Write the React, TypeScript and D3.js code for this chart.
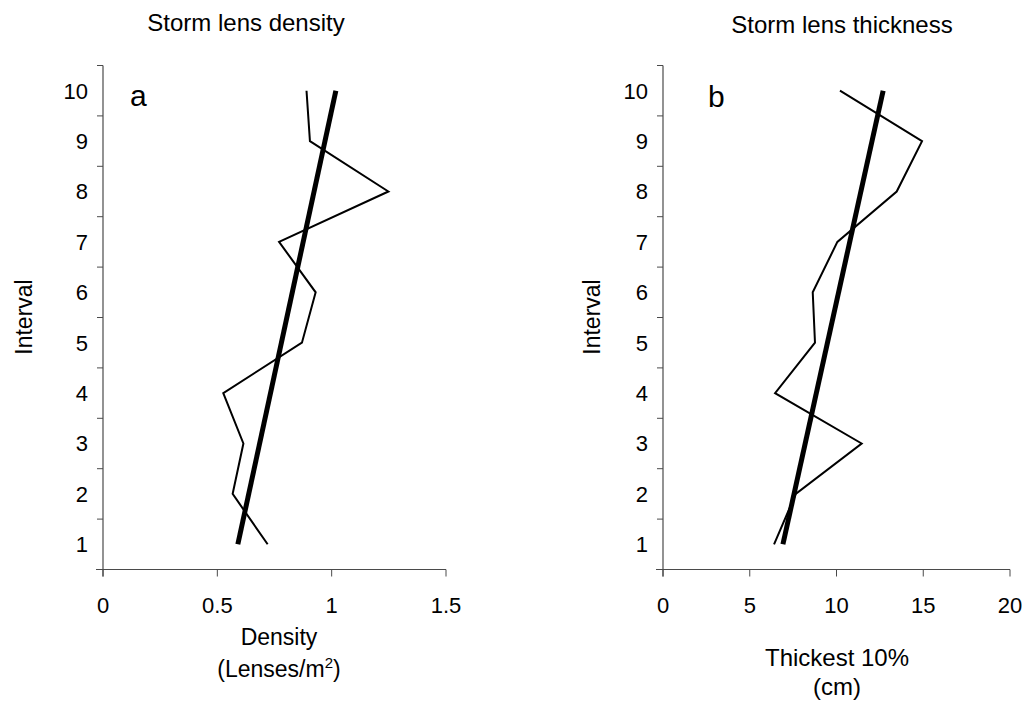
import React from 'react';
import * as d3 from 'd3';

// Interval number (y) for each row of both panels
const intervals = [1, 2, 3, 4, 5, 6, 7, 8, 9, 10];

// Panel a: storm lens density (lenses / m2)
const densityValues = [0.72, 0.567, 0.614, 0.526, 0.87, 0.93, 0.77, 1.248, 0.905, 0.89];
const densityTicks = [0, 0.5, 1, 1.5];

// Panel b: thickest 10% of lenses (cm)
const thicknessValues = [6.4, 7.65, 11.45, 6.46, 8.76, 8.63, 10.05, 13.47, 14.93, 10.2];
const thicknessTicks = [0, 5, 10, 15, 20];

const FONT = "'Liberation Sans', Arial, sans-serif";
const AXIS = '#4a4a4a';

// least-squares fit of x on interval, like the Excel trendline
function fitLine(ys: number[], xs: number[]) {
  const my = d3.mean(ys) as number;
  const mx = d3.mean(xs) as number;
  let num = 0;
  let den = 0;
  ys.forEach((y, i) => {
    num += (y - my) * (xs[i] - mx);
    den += (y - my) * (y - my);
  });
  const slope = num / den;
  return (y: number) => mx + slope * (y - my);
}

interface PanelProps {
  values: number[];
  ticks: number[];
  left: number;
  right: number;
  title: string;
  titleX: number;
  titleY: number;
  letter: string;
  letterX: number;
  letterY: number;
  yLabelX: number;
  xLabel: React.ReactNode;
}

const TOP = 65.5;
const BOTTOM = 569.5;

const Panel: React.FC<PanelProps> = ({
  values, ticks, left, right, title, titleX, titleY,
  letter, letterX, letterY, yLabelX, xLabel
}) => {
  const x = d3.scaleLinear()
    .domain([ticks[0], ticks[ticks.length - 1]])
    .range([left, right]);
  const y = d3.scaleLinear().domain([0.5, 10.5]).range([BOTTOM, TOP]);

  const pts = intervals.map((iv, i) => [values[i], iv] as [number, number]);
  const line = d3.line<[number, number]>()
    .x(d => x(d[0]))
    .y(d => y(d[1]));

  const fit = fitLine(intervals, values);
  const yExt = d3.extent(intervals) as [number, number];
  const trend: [number, number][] = [[fit(yExt[0]), yExt[0]], [fit(yExt[1]), yExt[1]]];

  const halfTicks = d3.range(0.5, 11, 1);

  return (
    <g fontFamily={FONT} fill="#000">
      <text x={titleX} y={titleY} textAnchor="middle" fontSize={24}>{title}</text>

      {/* y axis */}
      <line x1={left} x2={left} y1={TOP} y2={BOTTOM + 7} stroke={AXIS} strokeWidth={1.2} />
      {halfTicks.map(t => (
        <line key={t} x1={left - 6} x2={left} y1={y(t)} y2={y(t)} stroke={AXIS} strokeWidth={1} />
      ))}
      {intervals.map(iv => (
        <text key={iv} x={left - 15} y={y(iv)} dy="0.36em" textAnchor="end" fontSize={22}>{iv}</text>
      ))}

      {/* x axis */}
      <line x1={left - 7} x2={right} y1={BOTTOM} y2={BOTTOM} stroke={AXIS} strokeWidth={1.2} />
      {ticks.map(t => (
        <line key={t} x1={x(t)} x2={x(t)} y1={BOTTOM} y2={BOTTOM + 7} stroke={AXIS} strokeWidth={1} />
      ))}
      {ticks.map(t => (
        <text key={t} x={x(t)} y={613} textAnchor="middle" fontSize={22}>{String(t)}</text>
      ))}

      <text transform={`translate(${yLabelX},317) rotate(-90)`} textAnchor="middle" fontSize={23}>Interval</text>
      {xLabel}

      <text x={letterX} y={letterY} fontSize={30}>{letter}</text>

      <path d={line(pts) || ''} fill="none" stroke="#000" strokeWidth={2} strokeLinejoin="miter" />
      <path d={line(trend) || ''} fill="none" stroke="#000" strokeWidth={5} />
    </g>
  );
};

export default function App() {
  return (
    <svg width={1027} height={707} style={{ position: 'absolute', left: 0, top: 0, background: '#fff' }}>
      <rect width={1027} height={707} fill="#fff" />
      <Panel
        values={densityValues}
        ticks={densityTicks}
        left={103}
        right={446}
        title="Storm lens density"
        titleX={246}
        titleY={31}
        letter="a"
        letterX={130}
        letterY={106}
        yLabelX={32}
        xLabel={
          <g fontFamily={FONT} fontSize={23} textAnchor="middle">
            <text x={279} y={645}>Density</text>
            <text x={279} y={677}>
              (Lenses/m<tspan dy={-9} fontSize={15}>2</tspan><tspan dy={9}>)</tspan>
            </text>
          </g>
        }
      />
      <Panel
        values={thicknessValues}
        ticks={thicknessTicks}
        left={663}
        right={1010}
        title="Storm lens thickness"
        titleX={842}
        titleY={33}
        letter="b"
        letterX={708}
        letterY={107}
        yLabelX={600}
        xLabel={
          <g fontFamily={FONT} fontSize={24} textAnchor="middle">
            <text x={837} y={666}>Thickest 10%</text>
            <text x={837} y={695}>(cm)</text>
          </g>
        }
      />
    </svg>
  );
}
